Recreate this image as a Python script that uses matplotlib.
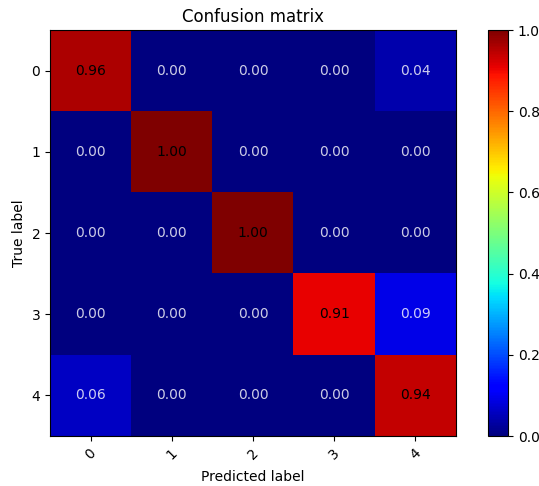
import numpy as np
import matplotlib
matplotlib.use("Agg")
import matplotlib.pyplot as plt

classes = ["0", "1", "2", "3", "4"]
row0 = [0.96, 0.00, 0.00, 0.00, 0.04]
row1 = [0.00, 1.00, 0.00, 0.00, 0.00]
row2 = [0.00, 0.00, 1.00, 0.00, 0.00]
row3 = [0.00, 0.00, 0.00, 0.91, 0.09]
row4 = [0.06, 0.00, 0.00, 0.00, 0.94]
cm = np.array([row0, row1, row2, row3, row4])

W, H = 539, 486
fig = plt.figure(figsize=(W / 100, H / 100), dpi=100)
ax = fig.add_axes([50 / W, 50 / H, 406 / W, 406 / H])
cax = fig.add_axes([488 / W, 50 / H, 20 / W, 406 / H])

im = ax.imshow(cm, interpolation="nearest", cmap=plt.cm.jet, vmin=0, vmax=1, aspect="auto")
ax.set_title("Confusion matrix")
fig.colorbar(im, cax=cax)
ticks = np.arange(len(classes))
ax.set_xticks(ticks)
ax.set_xticklabels(classes, rotation=45)
ax.set_yticks(ticks)
ax.set_yticklabels(classes)

thresh = cm.max() / 2.0
for i in range(cm.shape[0]):
    for j in range(cm.shape[1]):
        ax.text(j, i, format(cm[i, j], ".2f"), ha="center", va="center",
                color="white" if cm[i, j] < thresh else "black",
                alpha=0.8 if cm[i, j] < thresh else 1)

ax.set_ylabel("True label")
ax.set_xlabel("Predicted label", labelpad=6)
fig.savefig("out.png", dpi=100)
